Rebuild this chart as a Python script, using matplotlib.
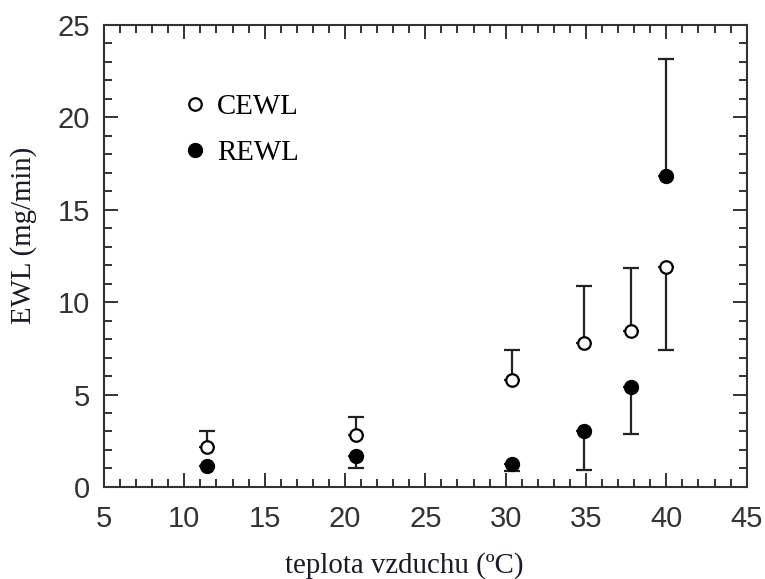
import matplotlib.pyplot as plt
from matplotlib.lines import Line2D
from matplotlib.ticker import MultipleLocator

# air temperature (deg C)
temp = [11.4, 20.7, 30.4, 34.9, 37.8, 40.0]

# CEWL means and one-sided error
cewl = [2.15, 2.8, 5.8, 7.8, 8.45, 11.9]
cewl_err_lo = [0, 0, 0, 0, 0, 4.5]
cewl_err_hi = [0.85, 1.0, 1.6, 3.05, 3.4, 0]

# REWL means and one-sided error
rewl = [1.15, 1.68, 1.25, 3.0, 5.4, 16.8]
rewl_err_lo = [0, 0.67, 0.4, 2.07, 2.55, 0]
rewl_err_hi = [0, 0, 0, 0, 0, 6.35]

fig = plt.figure(figsize=(7.65, 5.79), dpi=100)
ax = fig.add_axes([0.136, 0.159, 0.840, 0.798])

ax.errorbar(temp, cewl, yerr=[cewl_err_lo, cewl_err_hi], fmt='o', ms=9,
            mfc='white', mec='black', mew=1.6, ecolor='#222222', elinewidth=1.6,
            capsize=6, capthick=1.6, zorder=3)
ax.errorbar(temp, rewl, yerr=[rewl_err_lo, rewl_err_hi], fmt='o', ms=10,
            mfc='black', mec='black', ecolor='#222222', elinewidth=1.6,
            capsize=6, capthick=1.6, zorder=3)

ax.set_xlim(5, 45)
ax.set_ylim(0, 25)
ax.xaxis.set_major_locator(MultipleLocator(5))
ax.xaxis.set_minor_locator(MultipleLocator(1))
ax.yaxis.set_major_locator(MultipleLocator(5))
ax.yaxis.set_minor_locator(MultipleLocator(1))
ax.tick_params(which='both', direction='in', top=True, right=True,
               width=1.4, color='#333333')
ax.tick_params(which='major', length=10, labelsize=21, labelcolor='#333333')
ax.tick_params(which='minor', length=5.5)
ax.tick_params(axis='x', which='major', pad=13)
ax.tick_params(axis='y', which='major', pad=10)
for lbl in ax.get_xticklabels() + ax.get_yticklabels():
    lbl.set_family('Liberation Sans')
for sp in ax.spines.values():
    sp.set_linewidth(1.5)
    sp.set_color('#333333')

ax.set_xlabel('teplota vzduchu (ºC)', family='Liberation Serif', fontsize=20.8,
              color='#1a1a2a')
ax.set_ylabel('EWL (mg/min)', family='Liberation Serif', fontsize=20.8,
              color='#1a1a2a')
ax.xaxis.set_label_coords(0.467, -0.141)
ax.yaxis.set_label_coords(-0.104, 0.545)

handles = [
    Line2D([], [], ls='none', marker='o', ms=9, mfc='white', mec='black', mew=1.6),
    Line2D([], [], ls='none', marker='o', ms=10, mfc='black', mec='black'),
]
ax.legend(handles, ['CEWL', 'REWL'], loc='upper left',
          bbox_to_anchor=(0.128, 0.851), frameon=False, borderpad=0,
          borderaxespad=0, prop={'family': 'Liberation Serif', 'size': 20.8},
          handlelength=0.6, handletextpad=0.46, labelspacing=0.7)

fig.savefig('out.png', dpi=100)
